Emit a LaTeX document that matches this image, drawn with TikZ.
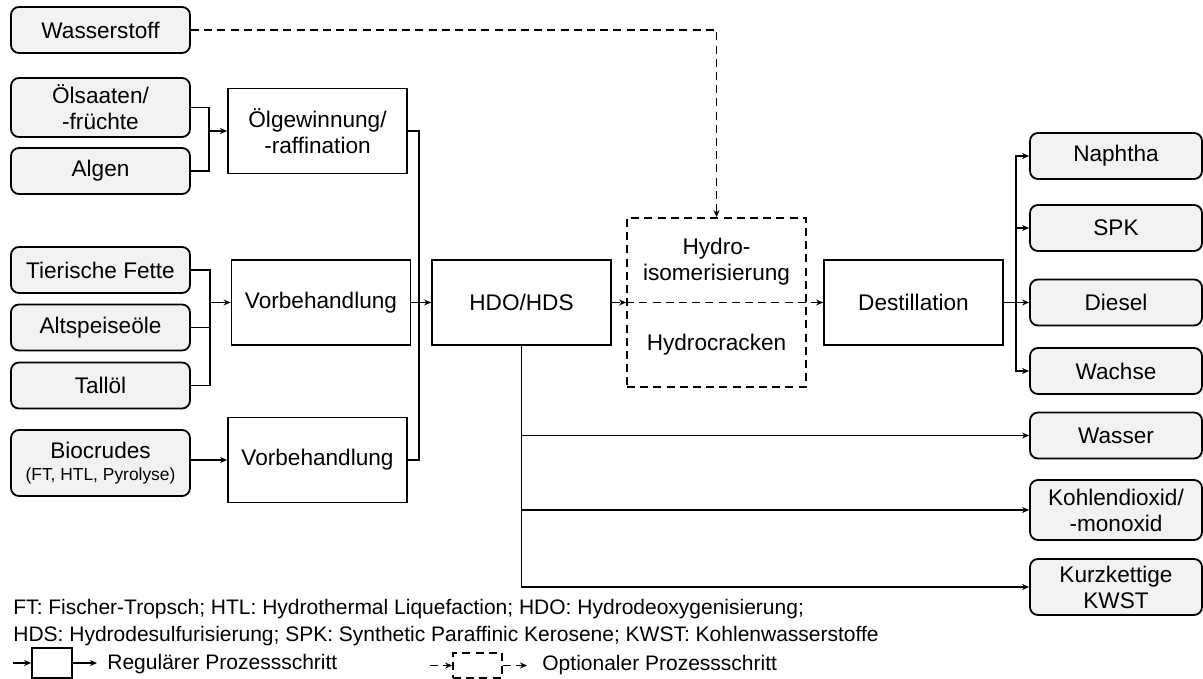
\documentclass[tikz,border=0pt]{standalone}
\usepackage{fontspec}
\setmainfont{Liberation Sans}
\usetikzlibrary{arrows.meta}
\definecolor{boxgray}{HTML}{F2F2F2}
\tikzset{
  feed/.style={draw, fill=boxgray, rounded corners=4pt, line width=0.9pt, minimum width=89.5pt, minimum height=23pt, align=center, inner sep=1pt, font=\fontsize{11.3}{13}\selectfont},
  prod/.style={feed, minimum width=86pt},
  proc/.style={draw, fill=white, line width=0.9pt, minimum width=89.5pt, minimum height=42.5pt, align=center, inner sep=1pt, font=\fontsize{11.3}{13}\selectfont},
  pipe/.style={line width=0.85pt},
  flow/.style={pipe, -{Stealth[length=3.5pt,width=3pt]}},
  opt/.style={dash pattern=on 4pt off 2.6pt},
  note/.style={anchor=west, inner sep=0pt, font=\fontsize{10.5}{12}\selectfont}
}
\begin{document}
\begin{tikzpicture}[x=0.5pt, y=-0.5pt]
\useasboundingbox (0,0) rectangle (1203,679);
% Rohstoffe
\node[feed] (wst) at (100.5,30) {Wasserstoff};
\node[feed, minimum height=29.5pt] (oel) at (100.5,107.5) {Ölsaaten/\\-früchte};
\node[feed] (alg) at (100.5,171) {Algen};
\node[feed] (tier) at (100.5,270) {Tierische Fette};
\node[feed] (alt) at (100.5,327.5) {Altspeiseöle};
\node[feed] (tall) at (100.5,385.5) {Tallöl};
\node[feed, minimum height=33pt] (bio) at (100.5,463) {Biocrudes\\[-2pt]{\fontsize{8.7}{10}\selectfont (FT, HTL, Pyrolyse)}};
% Prozessschritte
\node[proc] (gew) at (317.5,131) {Ölgewinnung/\\-raffination};
\node[proc] (vb1) at (321,302.5) {Vorbehandlung};
\node[proc] (vb2) at (317.5,460) {Vorbehandlung};
\node[proc] (hdo) at (521.5,302.5) {HDO/HDS};
\node[proc, opt, minimum height=84.5pt] (hyd) at (716.5,302.5) {};
\node[align=center, font=\fontsize{11.3}{13}\selectfont] (iso) at (716.5,262) {Hydro-\\isomerisierung};
\node[font=\fontsize{11.3}{13}\selectfont] (crack) at (716.5,345) {Hydrocracken};
\node[proc] (dest) at (913.5,302.5) {Destillation};
% Produkte
\node[prod] (nap) at (1116,156) {Naphtha};
\node[prod] (spk) at (1116,228) {SPK};
\node[prod] (die) at (1116,302.5) {Diesel};
\node[prod] (wac) at (1116,371) {Wachse};
\node[prod] (was) at (1116,435.5) {Wasser};
\node[prod, minimum height=30pt] (kohl) at (1116,510) {Kohlendioxid/\\-monoxid};
\node[prod, minimum height=28pt] (kurz) at (1116,587) {Kurzkettige\\KWST};
% Verbindungen
\coordinate (j1) at (209,131);
\coordinate (j2) at (210,302.5);
\coordinate (j3) at (419,302.5);
\coordinate (j4) at (1016,302.5);
\draw[pipe] (oel.east) -| (j1) |- (alg.east);
\draw[flow] (j1) -- (gew.west);
\draw[pipe] (tier.east) -| (j2) |- (tall.east);
\draw[pipe] (alt.east) -- (alt.east -| j2);
\draw[flow] (j2) -- (vb1.west);
\draw[flow] (bio.east |- vb2.west) -- (vb2.west);
\draw[pipe] (gew.east) -| (j3) |- (vb2.east);
\draw[flow] (vb1.east) -- (hdo.west);
\draw[flow, opt] (wst.east) -| (hyd.north);
\draw[flow, opt] (hdo.east) -- (hyd.west);
\draw[flow, opt] (hyd.west) -- (dest.west);
\draw[pipe] (dest.east) -- (j4);
\foreach \p in {nap,spk,die,wac}
  \draw[flow] (j4) |- (\p.west);
\foreach \p in {was,kohl,kurz}
  \draw[flow] (hdo.south) |- (\p.west);
% Legende
\node[note] (fn1) at (13,609) {FT: Fischer-Tropsch; HTL: Hydrothermal Liquefaction; HDO: Hydrodeoxygenisierung;};
\node[note] (fn2) at (13,636) {HDS: Hydrodesulfurisierung; SPK: Synthetic Paraffinic Kerosene; KWST: Kohlenwasserstoffe};
\node[proc, minimum width=20pt, minimum height=15pt] (lreg) at (52,663) {};
\coordinate (lr0) at (13,663);
\coordinate (lr1) at (97,663);
\draw[flow] (lr0) -- (lreg.west);
\draw[flow] (lreg.east) -- (lr1);
\node[note] (treg) at (107,664) {Regulärer Prozessschritt};
\node[proc, opt, minimum width=24.5pt, minimum height=12.5pt] (lopt) at (477.5,665.5) {};
\coordinate (lo0) at (430,665.5);
\coordinate (lo1) at (527,665.5);
\draw[flow, opt] (lo0) -- (lopt.west);
\draw[flow, opt] (lopt.east) -- (lo1);
\node[note] (topt) at (542,665.5) {Optionaler Prozessschritt};
\end{tikzpicture}
\end{document}
